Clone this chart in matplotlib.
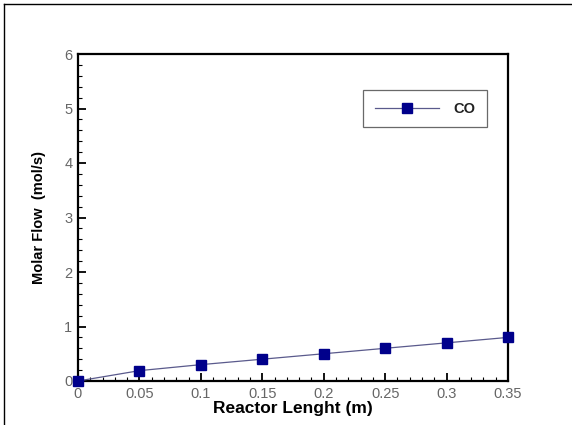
import matplotlib
matplotlib.use("Agg")
import matplotlib.pyplot as plt
from matplotlib.lines import Line2D
from matplotlib.ticker import MultipleLocator

plt.rcParams['font.family'] = ['Liberation Sans', 'DejaVu Sans']

length = [0, 0.05, 0.1, 0.15, 0.2, 0.25, 0.3, 0.35]
co_flow = [0.0, 0.19, 0.30, 0.40, 0.50, 0.60, 0.70, 0.80]
x_ticks = [0, 0.05, 0.1, 0.15, 0.2, 0.25, 0.3, 0.35]
x_labels = ["0", "0.05", "0.1", "0.15", "0.2", "0.25", "0.3", "0.35"]
y_ticks = [0, 1, 2, 3, 4, 5, 6]

L, R, T, B = 78, 508, 54, 381
fig = plt.figure(figsize=(5.72, 4.25), dpi=100)
ax = fig.add_axes([L/572, 1-B/425, (R-L)/572, (B-T)/425])

ax.plot(length, co_flow, color='#5a5a8c', lw=0.9, marker='s', ms=6.5,
        markerfacecolor='#00008b', markeredgecolor='#00008b', label='CO', clip_on=False, zorder=5)

ax.set_xlim(0, 0.35)
ax.set_ylim(0, 6)
ax.set_xticks(x_ticks)
ax.set_xticklabels(x_labels)
ax.set_yticks(y_ticks)
ax.xaxis.set_minor_locator(MultipleLocator(0.01))
ax.yaxis.set_minor_locator(MultipleLocator(0.2))
ax.tick_params(which='both', direction='in', top=False, right=False, color='black',
               labelcolor='#666666', labelsize=10.5)
ax.tick_params(which='major', length=6, width=1.3)
ax.tick_params(which='minor', length=3, width=0.8)
ax.tick_params(axis='x', pad=4)
ax.tick_params(axis='y', pad=4)
for s in ax.spines.values():
    s.set_linewidth(1.6)

ax.set_xlabel('Reactor Lenght (m)', fontsize=12.5, fontweight='bold', labelpad=0.5)
ax.set_ylabel('Molar Flow  (mol/s)', fontsize=10.5, fontweight='bold', labelpad=13)

leg = ax.legend(loc='upper left', bbox_to_anchor=((363-L)/(R-L), 1-(90-T)/(B-T)), frameon=True,
                fancybox=False, edgecolor='#444444', fontsize=10.5, handlelength=4.4,
                borderpad=0.8, handletextpad=1.0, borderaxespad=0)
leg.get_frame().set_linewidth(0.9)
leg.get_texts()[0].set_fontweight('bold')
leg.get_texts()[0].set_color('#222222')

fig.add_artist(Line2D([4/572, 1], [1-4/425, 1-4/425], color='black', lw=1.0))
fig.add_artist(Line2D([4/572, 4/572], [0, 1-4/425], color='black', lw=1.0))

fig.savefig('out.png', dpi=100)
